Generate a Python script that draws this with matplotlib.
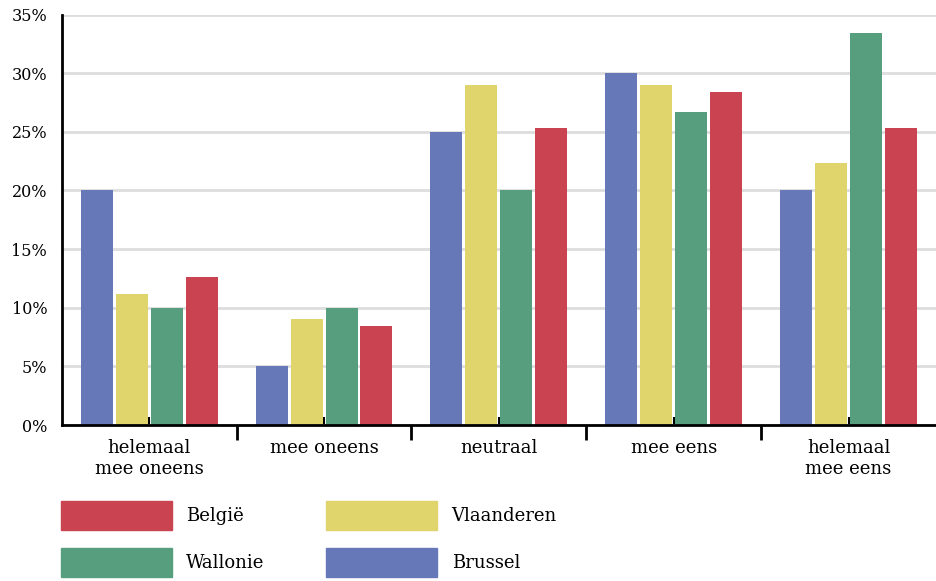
"""
plot.py
"""

import numpy as np
import matplotlib.pyplot as plt
from matplotlib.patches import Patch

categories = ['helemaal\nmee oneens', 'mee oneens', 'neutraal',
              'mee eens', 'helemaal\nmee eens']
regions = ['Brussel', 'Vlaanderen', 'Wallonie', 'België']
brussel = [20.0, 5.0, 25.0, 30.0, 20.0]
vlaanderen = [11.2, 9.0, 29.0, 29.0, 22.3]
wallonie = [10.0, 10.0, 20.0, 26.7, 33.4]
belgie = [12.6, 8.4, 25.3, 28.4, 25.3]
y_ticks = [0, 5, 10, 15, 20, 25, 30, 35]

colors = {'Brussel': '#6778b8', 'Vlaanderen': '#e0d46c',
          'Wallonie': '#569e7e', 'België': '#c94350'}

plt.rcParams['font.family'] = ['DejaVu Serif']

fig = plt.figure(figsize=(9.36, 5.81), dpi=100)
ax = fig.add_axes([0.066, 0.2685, 0.934, 0.7065])

x = np.arange(len(categories))
series = [brussel, vlaanderen, wallonie, belgie]
slot = 0.2
width = 0.183
for i, (name, vals) in enumerate(zip(regions, series)):
    ax.bar(x + (i - 1.5) * slot, vals, width=width,
           color=colors[name], zorder=3)

ax.set_xlim(-0.5, len(categories) - 0.5)
ax.set_ylim(0, 35)
ax.set_yticks(y_ticks)
ax.set_yticklabels(['%d%%' % t for t in y_ticks])
ax.tick_params(axis='y', length=0, pad=10.5, labelsize=11.5)
ax.grid(axis='y', color='#dddddd', linewidth=2, zorder=0)

# category labels on minor ticks, boundary ticks on major ticks
ax.set_xticks(x, minor=True)
ax.set_xticklabels(categories, minor=True, linespacing=1.3)
ax.set_xticks(np.arange(0.5, len(categories) - 1, 1.0))
ax.set_xticklabels([])
ax.tick_params(axis='x', which='major', direction='out', length=11,
               width=2, color='black')
ax.tick_params(axis='x', which='minor', direction='in', length=6,
               width=1.5, color='black', pad=10, labelsize=13)

for side in ['top', 'right']:
    ax.spines[side].set_visible(False)
ax.spines['left'].set_linewidth(2)
ax.spines['bottom'].set_linewidth(2)
ax.spines['bottom'].set_zorder(4)

order = ['België', 'Wallonie', 'Vlaanderen', 'Brussel']
handles = [Patch(color=colors[n], label=n) for n in order]
ax.legend(handles=handles, ncol=2, loc='upper left',
          bbox_to_anchor=(-0.001, -0.185), frameon=False, fontsize=13,
          handlelength=6.15, handleheight=2.1, handletextpad=0.8,
          columnspacing=3.4, labelspacing=1.0, borderaxespad=0,
          borderpad=0)

fig.savefig('out.png', dpi=100)
